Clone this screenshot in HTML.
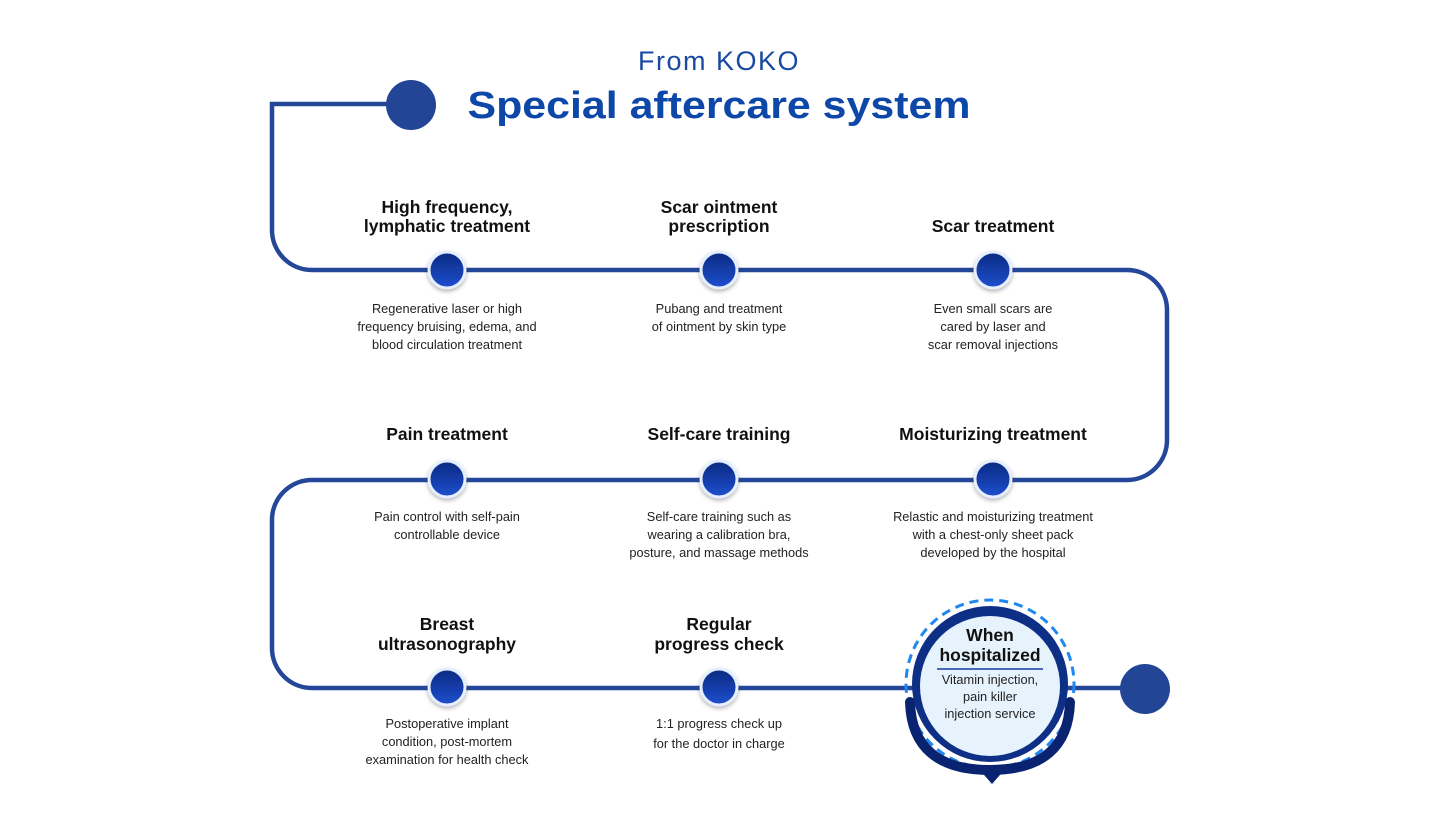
<!DOCTYPE html>
<html><head><meta charset="utf-8"><style>
body{margin:0;background:#fff;}
svg text{font-family:"Liberation Sans",sans-serif;}
.t{font-weight:bold;font-size:17.5px;fill:#111;text-anchor:middle}
.d{font-size:12.8px;fill:#222;text-anchor:middle}
</style></head><body>
<svg width="1440" height="833" viewBox="0 0 1440 833">
<defs>
<linearGradient id="g" x1="0" y1="0" x2="0" y2="1"><stop offset="0" stop-color="#0a2a80"/><stop offset="1" stop-color="#1f4fd0"/></linearGradient>
<filter id="s" x="-50%" y="-50%" width="200%" height="200%"><feDropShadow dx="0" dy="2" stdDeviation="2" flood-opacity="0.3"/></filter>
</defs>
<text x="719" y="70" text-anchor="middle" font-size="27" fill="#1a4aa0" letter-spacing="1.5">From KOKO</text>
<text x="719" y="118" text-anchor="middle" font-size="38" font-weight="bold" fill="#0d47a8" textLength="503" lengthAdjust="spacingAndGlyphs">Special aftercare system</text>
<path d="M411 104 H272 V230 A40 40 0 0 0 312 270 H1127 A40 40 0 0 1 1167 310 V440 A40 40 0 0 1 1127 480 H312 A40 40 0 0 0 272 520 V648 A40 40 0 0 0 312 688 H1145" fill="none" stroke="#24479a" stroke-width="4.5"/>
<circle cx="411" cy="105" r="25" fill="#234596"/>
<circle cx="1145" cy="689" r="25" fill="#234596"/>
<g filter="url(#s)">
<circle cx="447" cy="270" r="18" fill="url(#g)" stroke="#e6efff" stroke-width="3"/>
<circle cx="719" cy="270" r="18" fill="url(#g)" stroke="#e6efff" stroke-width="3"/>
<circle cx="993" cy="270" r="18" fill="url(#g)" stroke="#e6efff" stroke-width="3"/>
<circle cx="447" cy="479" r="18" fill="url(#g)" stroke="#e6efff" stroke-width="3"/>
<circle cx="719" cy="479" r="18" fill="url(#g)" stroke="#e6efff" stroke-width="3"/>
<circle cx="993" cy="479" r="18" fill="url(#g)" stroke="#e6efff" stroke-width="3"/>
<circle cx="447" cy="687" r="18" fill="url(#g)" stroke="#e6efff" stroke-width="3"/>
<circle cx="719" cy="687" r="18" fill="url(#g)" stroke="#e6efff" stroke-width="3"/>
</g>
<text class="t" x="447" y="213">High frequency,</text><text class="t" x="447" y="232">lymphatic treatment</text>
<text class="t" x="719" y="213">Scar ointment</text><text class="t" x="719" y="232">prescription</text>
<text class="t" x="993" y="232">Scar treatment</text>
<text class="d" x="447" y="313">Regenerative laser or high</text><text class="d" x="447" y="331">frequency bruising, edema, and</text><text class="d" x="447" y="349">blood circulation treatment</text>
<text class="d" x="719" y="313">Pubang and treatment</text><text class="d" x="719" y="331">of ointment by skin type</text>
<text class="d" x="993" y="313">Even small scars are</text><text class="d" x="993" y="331">cared by laser and</text><text class="d" x="993" y="349">scar removal injections</text>
<text class="t" x="447" y="440">Pain treatment</text>
<text class="t" x="719" y="440">Self-care training</text>
<text class="t" x="993" y="440">Moisturizing treatment</text>
<text class="d" x="447" y="521">Pain control with self-pain</text><text class="d" x="447" y="539">controllable device</text>
<text class="d" x="719" y="521">Self-care training such as</text><text class="d" x="719" y="539">wearing a calibration bra,</text><text class="d" x="719" y="557">posture, and massage methods</text>
<text class="d" x="993" y="521">Relastic and moisturizing treatment</text><text class="d" x="993" y="539">with a chest-only sheet pack</text><text class="d" x="993" y="557">developed by the hospital</text>
<text class="t" x="447" y="630">Breast</text><text class="t" x="447" y="650">ultrasonography</text>
<text class="t" x="719" y="630">Regular</text><text class="t" x="719" y="650">progress check</text>
<text class="d" x="447" y="728">Postoperative implant</text><text class="d" x="447" y="746">condition, post-mortem</text><text class="d" x="447" y="764">examination for health check</text>
<text class="d" x="719" y="728">1:1 progress check up</text><text class="d" x="719" y="748">for the doctor in charge</text>
<!-- big node -->
<circle cx="990" cy="684" r="84" fill="none" stroke="#1e88f0" stroke-width="3" stroke-dasharray="9 6"/>
<path d="M910 702 Q912 770 990 770 Q1068 770 1070 702" fill="none" stroke="#0a2370" stroke-width="10" stroke-linecap="round"/>
<path d="M978 768 L992 784 L1006 768 Z" fill="#0a2370"/>
<circle cx="990" cy="684" r="78" fill="#0e2f86"/>
<circle cx="990" cy="686" r="70" fill="#e6f3fd"/>
<text class="t" x="990" y="641">When</text><text class="t" x="990" y="661">hospitalized</text>
<line x1="937" y1="669" x2="1043" y2="669" stroke="#4a6ab8" stroke-width="2"/>
<text class="d" x="990" y="684" font-size="13">Vitamin injection,</text>
<text class="d" x="990" y="701" font-size="13">pain killer</text>
<text class="d" x="990" y="718" font-size="13">injection service</text>
</svg>
</body></html>
